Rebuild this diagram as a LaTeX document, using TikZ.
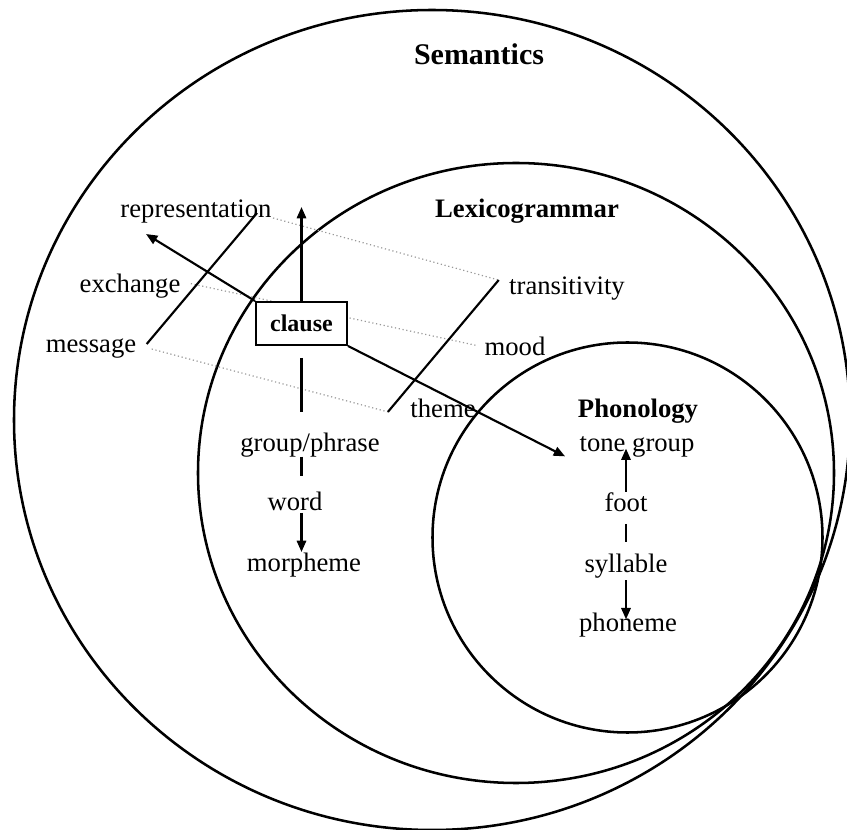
\documentclass[tikz,border=0pt]{standalone}
\usepackage{fontspec}
\setmainfont{Liberation Serif}
\usetikzlibrary{arrows.meta,calc}

\tikzset{every picture/.style={line width=0.75pt}}
\tikzset{
  lbl/.style={anchor=base,inner sep=0.75pt,font=\fontsize{20}{24}\selectfont},
  head/.style={anchor=base,inner sep=0.75pt,font=\fontsize{20}{24}\selectfont\bfseries},
  ring/.style={line width=1.9pt},
  link/.style={line width=1.6pt},
  arr/.style={link,-{Triangle[length=8.5pt,width=7pt]}},
  faint/.style={dotted,line width=0.9pt,black!40},
  rankbox/.style={draw,fill=white,line width=1.7pt,minimum width=68pt,minimum height=32pt,inner sep=0pt,font=\fontsize{18}{20}\selectfont\bfseries},
}

\begin{document}
\begin{tikzpicture}[x=0.75pt,y=0.75pt,yscale=-1,xscale=1]
\useasboundingbox (0,0) rectangle (847,830);

%Shape: Ellipse (semantics)
\draw [ring] (432,420) ellipse (418 and 410);
%Shape: Ellipse (lexicogrammar)
\draw [ring] (516,473) ellipse (318 and 310);
%Shape: Circle (phonology)
\draw [ring] (627.5,537.5) circle (195);

% Text Node
\draw (479,65) node [head,font=\fontsize{22.5}{26}\selectfont\bfseries] (sem) {Semantics};
% Text Node
\draw (527,218) node [head] (lex) {Lexicogrammar};
% Text Node
\draw (638,418) node [head] (phon) {Phonology};
% Text Node
\draw (196,218) node [lbl] (representation) {representation};
% Text Node
\draw (130,293) node [lbl] (exchange) {exchange};
% Text Node
\draw (91,353) node [lbl] (message) {message};
% Text Node
\draw (567,295) node [lbl] (transitivity) {transitivity};
% Text Node
\draw (515,356) node [lbl] (mood) {mood};
% Text Node
\draw (443,418) node [lbl] (theme) {theme};
% Text Node
\draw (310,452) node [lbl] (gp) {group/phrase};
% Text Node
\draw (295,511) node [lbl] (word) {word};
% Text Node
\draw (304,572) node [lbl] (morpheme) {morpheme};
% Text Node
\draw (637,452) node [lbl] (tonegroup) {tone group};
% Text Node
\draw (626,512) node [lbl] (foot) {foot};
% Text Node
\draw (626,573) node [lbl] (syllable) {syllable};
% Text Node
\draw (628,632) node [lbl] (phoneme) {phoneme};

\coordinate (msgA) at ($(message.east)+(9,-5)$);
\coordinate (repB) at ($(representation.base east)+(-16,-5)$);
\coordinate (themeA) at ($(theme.west)+(-21,3)$);
\coordinate (transB) at ($(transitivity.west)+(-9,-9)$);

%Dotted Lines
\draw [faint] (representation.base east) -- (transB);
\draw [faint, shorten >=4pt] ($(exchange.east)+(9,-3)$) -- (mood.west);
\draw [faint] ($(message.east)+(14,0)$) -- (themeA);

% Box Node
\draw (301.5,323.5) node [rankbox] (clause) {clause};

%Straight Lines
\draw [link] (msgA) -- (repB);
\draw [link] (themeA) -- (transB);
\draw [arr] (clause.north) -- ($(clause.north)+(0,-94)$);
\draw [arr] (clause.north west) -- ($(clause.north west)+(-109,-67)$);
\draw [arr] (clause.south east) -- ($(tonegroup.west)+(-13,9)$);
\draw [link, shorten <=9pt, shorten >=15pt] (clause.south) -- (clause.south |- gp.north);
\draw [link, shorten <=-2pt, shorten >=11pt] (gp.south -| clause.south) -- (word.north -| clause.south);
\draw [arr] (word.south -| clause.south) -- (morpheme.north -| clause.south);
\draw [arr, shorten >=-8pt] (foot.north) -- (foot.north |- tonegroup.south);
\draw [link, shorten <=7.5pt, shorten >=8pt] (foot.south) -- (foot.south |- syllable.north);
\draw [arr, shorten >=-5.5pt] (foot.south |- syllable.south) -- (foot.south |- phoneme.north);
\end{tikzpicture}
\end{document}
